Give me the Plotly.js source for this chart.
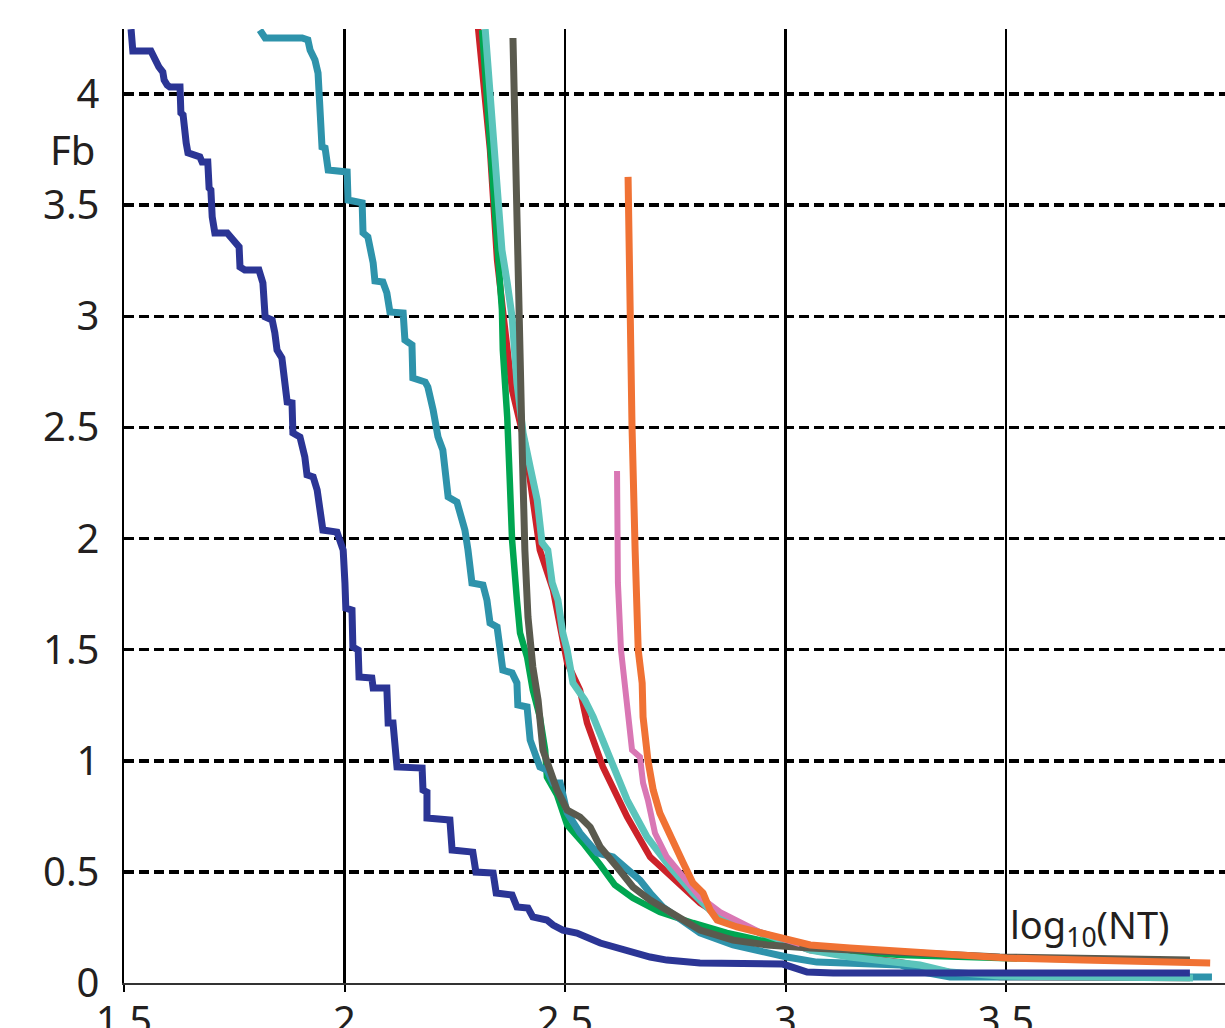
<!DOCTYPE html>
<html>
<head>
<meta charset="utf-8">
<script src="https://cdn.plot.ly/plotly-3.0.1.min.js"></script>
<style>html,body{margin:0;padding:0;background:#fff;}#chart{width:1225px;height:1028px;}</style>
</head>
<body>
<div id="chart"></div>
<script>
// ---- data (x = log10(NT), y = Fb) ----
const navyX = [1.516,1.520,1.561,1.568,1.575,1.579,1.588,1.591,1.598,1.604,1.627,1.629,1.634,1.636,1.641,1.645,1.672,1.677,1.690,1.693,1.697,1.700,1.706,1.734,1.747,1.761,1.763,1.774,1.806,1.815,1.820,1.836,1.842,1.847,1.858,1.865,1.870,1.881,1.883,1.899,1.910,1.915,1.929,1.938,1.944,1.951,1.983,1.990,1.997,2.001,2.003,2.017,2.019,2.031,2.033,2.062,2.065,2.096,2.099,2.110,2.119,2.176,2.178,2.187,2.187,2.239,2.244,2.291,2.298,2.337,2.344,2.380,2.391,2.416,2.427,2.459,2.473,2.495,2.527,2.580,2.618,2.654,2.693,2.731,2.768,2.806,2.994,3.017,3.049,3.108,3.917];
const navyY = [4.292,4.194,4.194,4.162,4.144,4.122,4.099,4.063,4.040,4.031,4.031,3.915,3.906,3.825,3.780,3.735,3.717,3.694,3.694,3.577,3.568,3.447,3.375,3.375,3.343,3.312,3.222,3.208,3.208,3.150,2.997,2.983,2.925,2.848,2.812,2.700,2.614,2.610,2.475,2.457,2.367,2.286,2.277,2.218,2.128,2.038,2.029,1.993,1.948,1.800,1.687,1.678,1.512,1.498,1.377,1.372,1.327,1.327,1.170,1.170,0.972,0.967,0.868,0.859,0.742,0.733,0.598,0.589,0.499,0.495,0.405,0.396,0.342,0.337,0.297,0.283,0.261,0.238,0.225,0.180,0.157,0.135,0.117,0.103,0.094,0.090,0.085,0.067,0.049,0.045,0.045];

const tealX = [1.808,1.820,1.904,1.917,1.922,1.933,1.940,1.944,1.949,1.956,1.963,2.006,2.008,2.040,2.042,2.053,2.065,2.069,2.087,2.096,2.103,2.133,2.137,2.153,2.155,2.183,2.189,2.201,2.212,2.223,2.232,2.235,2.255,2.266,2.273,2.280,2.289,2.314,2.323,2.330,2.346,2.353,2.359,2.380,2.391,2.393,2.414,2.421,2.443,2.459,2.473,2.489,2.505,2.534,2.573,2.609,2.641,2.670,2.693,2.722,2.754,2.806,2.881,2.958,3.003,3.071,3.260,3.312,3.373,3.967];
const tealY = [4.288,4.252,4.252,4.243,4.198,4.153,4.094,3.973,3.762,3.757,3.658,3.649,3.523,3.510,3.375,3.357,3.240,3.159,3.154,3.105,3.019,3.015,2.893,2.871,2.722,2.704,2.682,2.578,2.457,2.398,2.250,2.187,2.164,2.097,2.038,1.948,1.800,1.791,1.723,1.620,1.602,1.498,1.408,1.395,1.350,1.251,1.242,1.093,0.972,0.958,0.900,0.900,0.765,0.675,0.585,0.567,0.508,0.463,0.405,0.342,0.297,0.225,0.171,0.135,0.117,0.094,0.081,0.049,0.027,0.027];

const redX = [2.303,2.330,2.346,2.364,2.380,2.409,2.443,2.473,2.505,2.534,2.550,2.586,2.641,2.693,2.754,2.806,2.867,2.942,3.056,3.260,3.373,3.486,3.917];
const redY = [4.297,3.748,3.253,2.938,2.668,2.430,1.948,1.768,1.440,1.318,1.170,0.972,0.747,0.567,0.450,0.360,0.283,0.225,0.148,0.094,0.049,0.027,0.022];

const greenX = [2.312,2.341,2.357,2.359,2.369,2.375,2.380,2.391,2.398,2.414,2.427,2.443,2.455,2.459,2.482,2.505,2.541,2.580,2.613,2.654,2.715,2.790,2.867,2.942,3.056,3.260,3.486,3.917];
const greenY = [4.288,3.523,3.028,2.848,2.547,2.250,1.993,1.723,1.575,1.467,1.318,1.197,1.048,0.927,0.846,0.711,0.630,0.531,0.441,0.382,0.319,0.270,0.225,0.193,0.157,0.126,0.112,0.099];

const turqX = [2.319,2.341,2.357,2.369,2.380,2.391,2.405,2.421,2.437,2.448,2.461,2.471,2.484,2.495,2.505,2.518,2.545,2.564,2.595,2.641,2.686,2.738,2.790,2.829,2.881,2.942,3.003,3.056,3.146,3.260,3.305,3.373,3.486,3.924];
const turqY = [4.292,3.748,3.298,3.150,2.997,2.700,2.475,2.322,2.173,1.980,1.948,1.800,1.723,1.575,1.498,1.350,1.273,1.197,1.048,0.823,0.657,0.522,0.405,0.328,0.270,0.225,0.180,0.148,0.117,0.094,0.081,0.049,0.031,0.022];

const grayX = [2.382,2.393,2.398,2.403,2.409,2.416,2.427,2.439,2.450,2.482,2.505,2.534,2.557,2.580,2.618,2.654,2.693,2.731,2.768,2.806,2.881,2.958,3.056,3.260,3.486,3.917];
const grayY = [4.252,3.073,2.848,2.398,1.948,1.647,1.422,1.273,1.048,0.868,0.778,0.747,0.702,0.612,0.522,0.432,0.373,0.328,0.283,0.238,0.193,0.171,0.157,0.135,0.117,0.103];

const pinkX = [2.618,2.620,2.627,2.636,2.643,2.652,2.670,2.677,2.688,2.704,2.731,2.768,2.806,2.852,2.942,3.033];
const pinkY = [2.304,1.800,1.498,1.318,1.197,1.048,1.017,0.900,0.823,0.675,0.567,0.477,0.387,0.319,0.229,0.175];

const orangeX = [2.643,2.647,2.652,2.659,2.666,2.675,2.677,2.688,2.700,2.715,2.745,2.768,2.790,2.813,2.829,2.845,2.890,2.942,3.003,3.056,3.146,3.298,3.502,3.675,3.963];
const orangeY = [3.627,2.997,2.502,1.948,1.498,1.350,1.197,1.003,0.868,0.765,0.630,0.540,0.450,0.405,0.328,0.283,0.252,0.225,0.193,0.171,0.157,0.135,0.112,0.103,0.090];

const xTicks = [1.5, 2, 2.5, 3, 3.5];
const xTickText = ['1.5', '2', '2.5', '3', '3.5'];
const yTicks = [0, 0.5, 1, 1.5, 2, 2.5, 3, 3.5, 4];
const yTickText = ['0', '0.5', '1', '1.5', '2', '2.5', '3', '3.5', '4'];
const yLabel = 'Fb';
const xLabel = 'log<sub>10</sub>(NT)';

// ---- drawing ----
function tr(x, y, color, width) {
  return {x: x, y: y, type: 'scatter', mode: 'lines',
          line: {color: color, width: width, shape: 'linear'},
          hoverinfo: 'skip', showlegend: false};
}
const traces = [
  tr(redX, redY, '#CC2229', 6.5),
  tr(greenX, greenY, '#00A651', 6.5),
  tr(tealX, tealY, '#2E93AB', 7),
  tr(turqX, turqY, '#5BC4BB', 7),
  tr(navyX, navyY, '#2B3595', 7),
  tr(grayX, grayY, '#5A5A4E', 7),
  tr(pinkX, pinkY, '#D977B4', 6),
  tr(orangeX, orangeY, '#F07234', 7)
];

const font = {family: '"Noto Sans", "DejaVu Sans", sans-serif', color: '#231F20', size: 40};

const layout = {
  width: 1225, height: 1028,
  margin: {l: 124, r: 0, t: 29, b: 45, pad: 0},
  paper_bgcolor: '#ffffff', plot_bgcolor: '#ffffff',
  font: font,
  showlegend: false,
  xaxis: {
    range: [1.5, 3.9966],
    tickmode: 'array', tickvals: xTicks, ticktext: xTickText,
    showgrid: true, gridcolor: '#000000', gridwidth: 2.5,
    zeroline: false,
    showline: true, linecolor: '#333333', linewidth: 2,
    ticks: 'outside', ticklen: 7, tickwidth: 2, tickcolor: '#000000',
    ticklabelstandoff: -5,
    tickfont: font,
    fixedrange: true
  },
  yaxis: {
    range: [0, 4.2925],
    tickmode: 'array', tickvals: yTicks, ticktext: yTickText,
    showgrid: true, gridcolor: '#000000', gridwidth: 3.5, griddash: '10px,5px',
    zeroline: false,
    showline: true, linecolor: '#000000', linewidth: 2.5,
    ticks: '', ticklabelstandoff: 14,
    tickfont: font,
    fixedrange: true
  },
  annotations: [
    {text: yLabel, xref: 'paper', yref: 'y', x: -0.047, y: 3.75,
     xanchor: 'center', yanchor: 'middle', showarrow: false, font: font},
    {text: xLabel, xref: 'x', yref: 'y', x: 3.505, y: 0.255,
     xanchor: 'left', yanchor: 'middle', showarrow: false,
     font: {family: font.family, color: '#231F20', size: 38}}
  ]
};

Plotly.newPlot('chart', traces, layout, {staticPlot: true, displayModeBar: false});
</script>
</body>
</html>
